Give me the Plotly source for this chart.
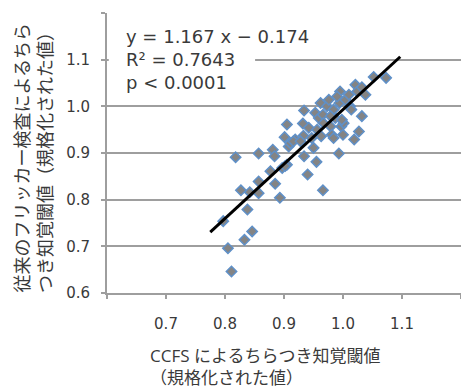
import plotly.graph_objects as go

# CCFS threshold (normalized) vs conventional flicker test threshold (normalized)
ccfs = [0.818, 0.857, 0.827, 0.842, 0.857, 0.857, 0.838, 0.846, 0.833, 0.797,
        0.805, 0.811, 0.881, 0.884, 0.877, 0.885, 0.893, 0.897, 0.905, 0.901,
        0.905, 0.908, 0.911, 0.919, 0.933, 0.932, 0.934, 0.942, 0.934, 0.940,
        0.950, 0.955, 0.947, 0.962, 0.953, 0.959, 0.966, 0.967, 0.963, 0.966,
        0.973, 0.979, 0.981, 0.984, 0.987, 0.993, 0.994, 0.995, 0.997, 1.000,
        1.001, 1.004, 1.010, 1.012, 1.014, 1.021, 1.024, 1.019, 1.027, 1.032,
        1.032, 1.038, 1.052, 1.073, 0.916, 0.928, 0.979, 0.990, 0.976, 0.984,
        0.998, 0.902, 0.956]
conventional = [0.891, 0.899, 0.820, 0.816, 0.814, 0.839, 0.779, 0.732, 0.714, 0.754,
                0.696, 0.646, 0.907, 0.893, 0.861, 0.834, 0.804, 0.868, 0.875, 0.934,
                0.961, 0.914, 0.921, 0.929, 0.937, 0.963, 0.991, 0.954, 0.893, 0.854,
                0.911, 0.881, 0.932, 1.007, 0.986, 0.975, 0.982, 0.964, 0.936, 0.820,
                1.000, 0.957, 0.939, 0.993, 0.975, 0.899, 1.007, 1.032, 0.957, 0.939,
                0.964, 1.014, 1.025, 1.000, 0.993, 1.046, 1.032, 0.929, 0.946, 0.979,
                1.041, 1.025, 1.063, 1.061, 0.925, 0.925, 0.979, 1.021, 1.014, 0.932,
                0.971, 0.872, 0.950]

slope = 1.167
intercept = -0.174
fit_x = [0.775, 1.097]
fit_y = [slope * v + intercept for v in fit_x]

tick_vals = [0.6, 0.7, 0.8, 0.9, 1.0, 1.1, 1.2]
x_tick_text = ["", "0.7", "0.8", "0.9", "1.0", "1.1", ""]
y_tick_text = ["0.6", "0.7", "0.8", "0.9", "1.0", "1.1", ""]

stats_lines = ["y = 1.167 x − 0.174", "R² = 0.7643", "p < 0.0001"]
x_title = "CCFS によるちらつき知覚閾値<br>（規格化された値）"
y_title = "従来のフリッカー検査によるちら<br>つき知覚閾値（規格化された値）"

FONT = "DejaVu Sans, Noto Sans CJK JP"
TITLE_FONT = "Open Sans, Noto Sans CJK JP"
CJK = "Noto Sans CJK JP"
TXT = "#3a3a3a"
GRID = "#9e9e9e"

fig = go.Figure()
fig.add_trace(go.Scatter(
    x=ccfs, y=conventional, mode="markers",
    marker=dict(symbol="diamond", size=8, color="#848484",
                line=dict(color="#5f90c8", width=1.5)),
    showlegend=False, hoverinfo="skip"))
fig.add_trace(go.Scatter(
    x=fit_x, y=fit_y, mode="lines",
    line=dict(color="black", width=3), showlegend=False, hoverinfo="skip"))

axis_common = dict(
    showline=True, linecolor=GRID, linewidth=2,
    zeroline=False,
    ticks="outside", ticklen=4, tickwidth=2, tickcolor=GRID,
    tickfont=dict(family=FONT, size=15, color=TXT),
    tickmode="array", tickvals=tick_vals,
)

fig.update_layout(
    width=461, height=390,
    margin=dict(l=107, r=0, t=13, b=97),
    paper_bgcolor="white", plot_bgcolor="white",
    font=dict(family=FONT, color=TXT),
    xaxis=dict(range=[0.6, 1.2], ticktext=x_tick_text, ticklabelstandoff=12,
               showgrid=False, **axis_common),
    yaxis=dict(range=[0.6, 1.2], ticktext=y_tick_text, ticklabelstandoff=8,
               showgrid=True, gridcolor=GRID, gridwidth=2, **axis_common),
)

# white patch behind stats text, hiding part of the 1.1 gridline
fig.add_shape(type="rect", xref="x", yref="y", x0=0.603, x1=0.851, y0=1.085, y1=1.115,
              fillcolor="white", line=dict(width=0), layer="above")

stat_y = [1.149, 1.100, 1.052]
for txt, yy in zip(stats_lines, stat_y):
    fig.add_annotation(x=0.6295, y=yy, xref="x", yref="y", text=txt,
                       showarrow=False, xanchor="left", yanchor="middle", align="left",
                       font=dict(family=FONT, size=18, color=TXT))

fig.add_annotation(x=(148 - 107) / 354, y=(293 - 366) / 280, xref="paper", yref="paper",
                   text=x_title, showarrow=False, xanchor="left", yanchor="middle",
                   align="left", font=dict(family=TITLE_FONT, size=17, color=TXT))

fig.add_annotation(x=(33 - 107) / 354, y=(293 - 158) / 280, xref="paper", yref="paper",
                   text=y_title, showarrow=False, xanchor="center", yanchor="middle",
                   textangle=-90, align="right", font=dict(family=CJK, size=18, color=TXT))

fig.write_html("out.html")
